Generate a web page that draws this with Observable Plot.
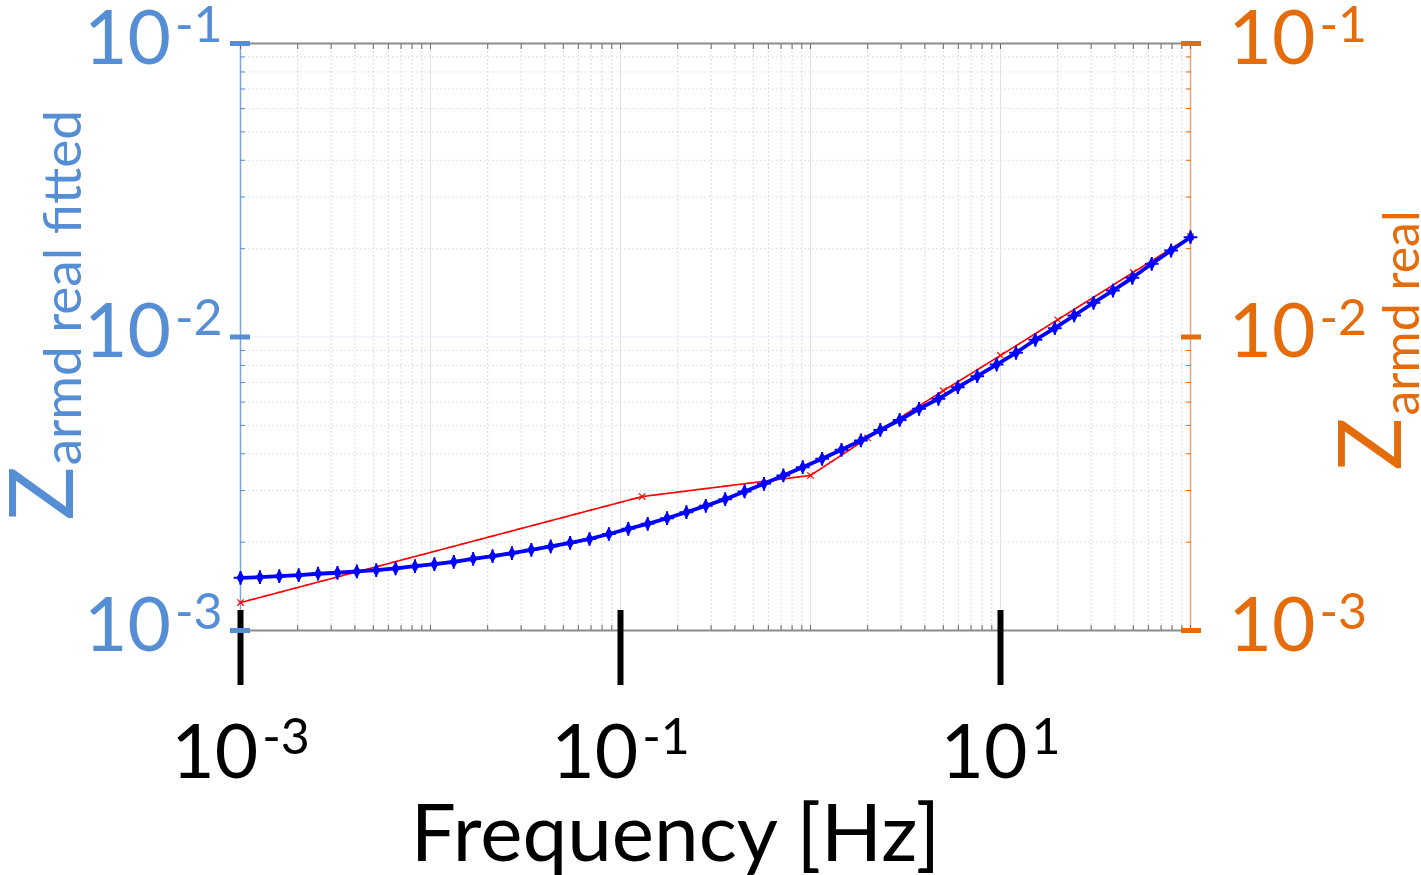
<!DOCTYPE html>
<html><head><meta charset="utf-8">
<script src="https://cdn.jsdelivr.net/npm/d3@7"></script>
<script src="https://cdn.jsdelivr.net/npm/@observablehq/plot@0.6"></script>
<style>html,body{margin:0;padding:0;background:#fff;overflow:hidden}</style>
</head><body><div id="chart"></div>
<script>
// ---- data ----
const fitFreq = [0.001,0.001265,0.0016,0.002024,0.00256,0.003238,0.004095,0.00518,0.006551,0.008286,
  0.01048,0.01326,0.01677,0.02121,0.02683,0.03393,0.04292,0.05429,0.06867,0.08685,
  0.1099,0.139,0.1758,0.2223,0.2812,0.3557,0.4498,0.569,0.7197,0.9103,
  1.151,1.456,1.842,2.33,2.947,3.728,4.715,5.964,7.543,9.541,
  12.07,15.26,19.31,24.42,30.89,39.07,49.42,62.51,79.06,100];
const fitZmilli = [1.512,1.519,1.531,1.543,1.561,1.573,1.589,1.605,1.627,1.656,
  1.682,1.714,1.755,1.792,1.834,1.884,1.933,1.990,2.050,2.132,
  2.221,2.309,2.413,2.530,2.660,2.802,2.976,3.161,3.375,3.601,
  3.846,4.127,4.440,4.822,5.215,5.693,6.158,6.745,7.354,8.059,
  8.837,9.783,10.72,11.84,13.08,14.40,15.91,17.76,19.71,21.88];
const dataFreq = [0.001,0.13,1.0,2,5,10,20,50,100];
const dataZmilli = [1.245,2.86,3.375,4.53,6.56,8.65,11.45,16.6,22.0];
const xTicks = [1e-3,1e-1,1e1];
const xExp = ["-3","-1","1"];
const yTicks = [1e-3,1e-2,1e-1];
const yExp = ["-3","-2","-1"];
const xTitle = "Frequency [Hz]";
const yLeftTitle = ["Z","armd real fitted"];
const yRightTitle = ["Z","armd real"];

const fit = fitFreq.map((f,i)=>({f, z: fitZmilli[i]*1e-3}));
const dat = dataFreq.map((f,i)=>({f, z: dataZmilli[i]*1e-3}));

const blue = "#558ED5", orange = "#E46C0A";
const xDecades = [1e-3,1e-2,1e-1,1,1e1,1e2];
const yDecades = [1e-3,1e-2,1e-1];
const xMinor = d3.scaleLog().domain([1e-3,1e2]).ticks().filter(v=>!xDecades.some(d=>Math.abs(d-v)/d<1e-6));
const yMinor = d3.scaleLog().domain([1e-3,1e-1]).ticks().filter(v=>!yDecades.some(d=>Math.abs(d-v)/d<1e-6));
const xAllTicks = d3.scaleLog().domain([1e-3,1e2]).ticks();

const ctx = document.createElement("canvas").getContext("2d");
function tw(s, size){ ctx.font = `${size}px Lato`; return ctx.measureText(s).width; }
const BASE = 75, EXP = 50;
const baseW = tw("10", BASE);

const marks = [
  Plot.gridX(xMinor, {stroke:"#cfcfcf", strokeOpacity:1, strokeDasharray:"1.5,2.5"}),
  Plot.gridX(xDecades, {stroke:"#e2e2e2", strokeOpacity:1}),
  Plot.gridY(yMinor, {stroke:"#cfdcec", strokeOpacity:1, strokeDasharray:"1.5,2.5"}),
  Plot.gridY(yDecades, {stroke:"#e6edf5", strokeOpacity:1}),
  Plot.ruleY([1e-3], {stroke:"#8c8c8c", strokeWidth:2}),
  Plot.ruleY([1e-1], {stroke:"#8c8c8c", strokeWidth:2}),
  Plot.ruleX([1e-3], {stroke:"#7da6dc", strokeWidth:1.5}),
  Plot.ruleX([1e2], {stroke:"#f2a27a", strokeWidth:1.5}),
  Plot.axisX(xAllTicks, {anchor:"bottom", tickSize:-5, stroke:"#666", tickFormat:()=>"", label:null}),
  Plot.axisX(xAllTicks, {anchor:"top", tickSize:-5, stroke:"#666", tickFormat:()=>"", label:null}),
  Plot.axisY(yMinor, {anchor:"left", tickSize:-5, stroke:blue, tickFormat:()=>"", label:null}),
  Plot.axisY(yMinor, {anchor:"right", tickSize:-5, stroke:orange, tickFormat:()=>"", label:null}),
  Plot.line(dat, {x:"f", y:"z", stroke:"#ff0000", strokeWidth:1.7, strokeDasharray:"3,1.2"}),
  Plot.dot(dat, {x:"f", y:"z", symbol:"times", stroke:"#ff0000", r:3, strokeWidth:1.2}),
  Plot.line(fit, {x:"f", y:"z", stroke:"#0000ff", strokeWidth:3.8}),
  Plot.dot(fit, {x:"f", y:"z", symbol:"diamond", fill:"#0000ff", r:4.2}),
  Plot.dot(fit, {x:"f", y:"z", symbol:"plus", stroke:"#0000ff", r:4.5, strokeWidth:2}),
  // major ticks
  Plot.axisX(xTicks, {anchor:"bottom", tickSize:75, dy:-20, stroke:"black", strokeWidth:6, tickFormat:()=>"", label:null}),
  Plot.axisY(yTicks, {anchor:"left", tickSize:20, dx:10, stroke:blue, strokeWidth:5, tickFormat:()=>"", label:null}),
  Plot.axisY(yTicks, {anchor:"right", tickSize:20, dx:-10, stroke:orange, strokeWidth:5, tickFormat:()=>"", label:null}),
  // left tick labels
  Plot.text(yTicks, {frameAnchor:"left", y:d=>d, text:(d,i)=>yExp[i], textAnchor:"end", lineAnchor:"bottom", dx:-18, dy:-2, fontSize:EXP, fill:blue}),
  Plot.text(yTicks, {frameAnchor:"left", y:d=>d, text:()=>"10", textAnchor:"end", lineAnchor:"bottom", dx:-18 - tw("-1",EXP) - 4, dy:20, fontSize:BASE, fill:blue}),
  // right tick labels
  Plot.text(yTicks, {frameAnchor:"right", y:d=>d, text:()=>"10", textAnchor:"start", lineAnchor:"bottom", dx:38, dy:20, fontSize:BASE, fill:orange}),
  Plot.text(yTicks, {frameAnchor:"right", y:d=>d, text:(d,i)=>yExp[i], textAnchor:"start", lineAnchor:"bottom", dx:38 + baseW + 4, dy:-2, fontSize:EXP, fill:orange}),
  // titles
  Plot.text([xTitle], {frameAnchor:"bottom", text:d=>d, textAnchor:"middle", lineAnchor:"bottom", dx:-40, dy:230, fontSize:80, fill:"black"}),
  Plot.text([yLeftTitle[0]], {frameAnchor:"left", text:d=>d, rotate:-90, textAnchor:"start", lineAnchor:"bottom", dx:-168, dy:183.5, fontSize:90, fill:blue}),
  Plot.text([yLeftTitle[1]], {frameAnchor:"left", text:d=>d, rotate:-90, textAnchor:"start", lineAnchor:"bottom", dx:-160, dy:183.5 - tw("Z",90) - 1, fontSize:53, fill:blue}),
  Plot.text([yRightTitle[0]], {frameAnchor:"right", text:d=>d, rotate:-90, textAnchor:"start", lineAnchor:"bottom", dx:210, dy:133.5, fontSize:88, fill:orange}),
  Plot.text([yRightTitle[1]], {frameAnchor:"right", text:d=>d, rotate:-90, textAnchor:"start", lineAnchor:"bottom", dx:228, dy:133.5 - tw("Z",88) - 2, fontSize:50, fill:orange})
];
// x tick labels, each group centred on its tick
xTicks.forEach((t,i)=>{
  const ew = tw(xExp[i], EXP);
  const total = baseW + 4 + ew;
  marks.push(Plot.text([t], {frameAnchor:"bottom", x:d=>d, text:()=>"10", textAnchor:"start", lineAnchor:"bottom", dx:-total/2, dy:147, fontSize:BASE, fill:"black"}));
  marks.push(Plot.text([t], {frameAnchor:"bottom", x:d=>d, text:()=>xExp[i], textAnchor:"start", lineAnchor:"bottom", dx:-total/2 + baseW + 4, dy:123, fontSize:EXP, fill:"black"}));
});

const chart = Plot.plot({
  width:1421, height:875,
  marginLeft:240, marginRight:231, marginTop:43, marginBottom:245,
  style:{fontFamily:"Lato", background:"#fff", overflow:"visible"},
  x:{type:"log", domain:[1e-3,1e2]},
  y:{type:"log", domain:[1e-3,1e-1]},
  marks
});
document.getElementById("chart").appendChild(chart);
</script>
</body></html>
